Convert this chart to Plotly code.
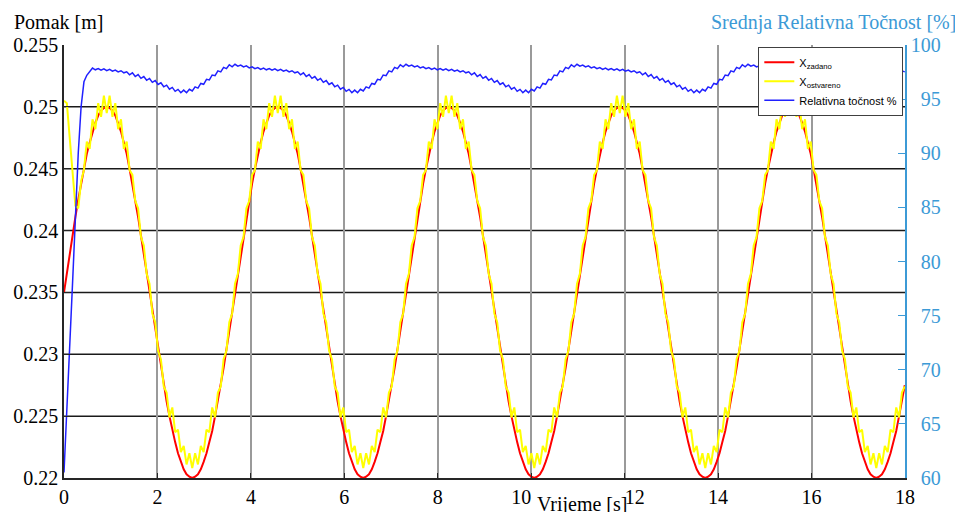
import numpy as np
import plotly.graph_objects as go

# ---------------- data ----------------
T_STEP = 0.061  # sampling step of the logged signals [s]

x_zadano = [
    0.2350, 0.2366, 0.2381, 0.2396, 0.2411, 0.2425, 0.2438, 0.2450, 0.2462, 0.2471,
    0.2480, 0.2487, 0.2493, 0.2497, 0.2499, 0.2500, 0.2499, 0.2497, 0.2493, 0.2487,
    0.2480, 0.2471, 0.2462, 0.2450, 0.2438, 0.2425, 0.2411, 0.2396, 0.2381, 0.2366,
    0.2350, 0.2334, 0.2319, 0.2304, 0.2289, 0.2275, 0.2262, 0.2250, 0.2238, 0.2229,
    0.2220, 0.2213, 0.2207, 0.2203, 0.2201, 0.2200, 0.2201, 0.2203, 0.2207, 0.2213,
    0.2220, 0.2229, 0.2238, 0.2250, 0.2262, 0.2275, 0.2289, 0.2304, 0.2319, 0.2334,
    0.2350, 0.2366, 0.2381, 0.2396, 0.2411, 0.2425, 0.2438, 0.2450, 0.2462, 0.2471,
    0.2480, 0.2487, 0.2493, 0.2497, 0.2499, 0.2500, 0.2499, 0.2497, 0.2493, 0.2487,
    0.2480, 0.2471, 0.2462, 0.2450, 0.2438, 0.2425, 0.2411, 0.2396, 0.2381, 0.2366,
    0.2350, 0.2334, 0.2319, 0.2304, 0.2289, 0.2275, 0.2262, 0.2250, 0.2238, 0.2229,
    0.2220, 0.2213, 0.2207, 0.2203, 0.2201, 0.2200, 0.2201, 0.2203, 0.2207, 0.2213,
    0.2220, 0.2229, 0.2238, 0.2250, 0.2262, 0.2275, 0.2289, 0.2304, 0.2319, 0.2334,
    0.2350, 0.2366, 0.2381, 0.2396, 0.2411, 0.2425, 0.2438, 0.2450, 0.2462, 0.2471,
    0.2480, 0.2487, 0.2493, 0.2497, 0.2499, 0.2500, 0.2499, 0.2497, 0.2493, 0.2487,
    0.2480, 0.2471, 0.2462, 0.2450, 0.2438, 0.2425, 0.2411, 0.2396, 0.2381, 0.2366,
    0.2350, 0.2334, 0.2319, 0.2304, 0.2289, 0.2275, 0.2262, 0.2250, 0.2238, 0.2229,
    0.2220, 0.2213, 0.2207, 0.2203, 0.2201, 0.2200, 0.2201, 0.2203, 0.2207, 0.2213,
    0.2220, 0.2229, 0.2238, 0.2250, 0.2262, 0.2275, 0.2289, 0.2304, 0.2319, 0.2334,
    0.2350, 0.2366, 0.2381, 0.2396, 0.2411, 0.2425, 0.2438, 0.2450, 0.2462, 0.2471,
    0.2480, 0.2487, 0.2493, 0.2497, 0.2499, 0.2500, 0.2499, 0.2497, 0.2493, 0.2487,
    0.2480, 0.2471, 0.2462, 0.2450, 0.2438, 0.2425, 0.2411, 0.2396, 0.2381, 0.2366,
    0.2350, 0.2334, 0.2319, 0.2304, 0.2289, 0.2275, 0.2262, 0.2250, 0.2238, 0.2229,
    0.2220, 0.2213, 0.2207, 0.2203, 0.2201, 0.2200, 0.2201, 0.2203, 0.2207, 0.2213,
    0.2220, 0.2229, 0.2238, 0.2250, 0.2262, 0.2275, 0.2289, 0.2304, 0.2319, 0.2334,
    0.2350, 0.2366, 0.2381, 0.2396, 0.2411, 0.2425, 0.2438, 0.2450, 0.2462, 0.2471,
    0.2480, 0.2487, 0.2493, 0.2497, 0.2499, 0.2500, 0.2499, 0.2497, 0.2493, 0.2487,
    0.2480, 0.2471, 0.2462, 0.2450, 0.2438, 0.2425, 0.2411, 0.2396, 0.2381, 0.2366,
    0.2350, 0.2334, 0.2319, 0.2304, 0.2289, 0.2275, 0.2262, 0.2250, 0.2238, 0.2229,
    0.2220, 0.2213, 0.2207, 0.2203, 0.2201, 0.2200, 0.2201, 0.2203, 0.2207, 0.2213,
    0.2220, 0.2229, 0.2238, 0.2250, 0.2262, 0.2275,
]

x_ostvareno = [
    0.2505, 0.2503, 0.2475, 0.2445, 0.2420, 0.2418, 0.2440, 0.2449, 0.2472, 0.2466,
    0.2490, 0.2482, 0.2503, 0.2492, 0.2509, 0.2495, 0.2509, 0.2492, 0.2503, 0.2482,
    0.2490, 0.2466, 0.2472, 0.2449, 0.2445, 0.2424, 0.2418, 0.2395, 0.2388, 0.2365,
    0.2357, 0.2333, 0.2326, 0.2303, 0.2296, 0.2274, 0.2269, 0.2249, 0.2257, 0.2237,
    0.2239, 0.2221, 0.2226, 0.2211, 0.2220, 0.2208, 0.2220, 0.2211, 0.2226, 0.2221,
    0.2239, 0.2237, 0.2257, 0.2249, 0.2269, 0.2274, 0.2296, 0.2303, 0.2326, 0.2333,
    0.2357, 0.2365, 0.2388, 0.2395, 0.2418, 0.2424, 0.2445, 0.2449, 0.2472, 0.2466,
    0.2490, 0.2482, 0.2503, 0.2492, 0.2509, 0.2495, 0.2509, 0.2492, 0.2503, 0.2482,
    0.2490, 0.2466, 0.2472, 0.2449, 0.2445, 0.2424, 0.2418, 0.2395, 0.2388, 0.2365,
    0.2357, 0.2333, 0.2326, 0.2303, 0.2296, 0.2274, 0.2269, 0.2249, 0.2257, 0.2237,
    0.2239, 0.2221, 0.2226, 0.2211, 0.2220, 0.2208, 0.2220, 0.2211, 0.2226, 0.2221,
    0.2239, 0.2237, 0.2257, 0.2249, 0.2269, 0.2274, 0.2296, 0.2303, 0.2326, 0.2333,
    0.2357, 0.2365, 0.2388, 0.2395, 0.2418, 0.2424, 0.2445, 0.2449, 0.2472, 0.2466,
    0.2490, 0.2482, 0.2503, 0.2492, 0.2509, 0.2495, 0.2509, 0.2492, 0.2503, 0.2482,
    0.2490, 0.2466, 0.2472, 0.2449, 0.2445, 0.2424, 0.2418, 0.2395, 0.2388, 0.2365,
    0.2357, 0.2333, 0.2326, 0.2303, 0.2296, 0.2274, 0.2269, 0.2249, 0.2257, 0.2237,
    0.2239, 0.2221, 0.2226, 0.2211, 0.2220, 0.2208, 0.2220, 0.2211, 0.2226, 0.2221,
    0.2239, 0.2237, 0.2257, 0.2249, 0.2269, 0.2274, 0.2296, 0.2303, 0.2326, 0.2333,
    0.2357, 0.2365, 0.2388, 0.2395, 0.2418, 0.2424, 0.2445, 0.2449, 0.2472, 0.2466,
    0.2490, 0.2482, 0.2503, 0.2492, 0.2509, 0.2495, 0.2509, 0.2492, 0.2503, 0.2482,
    0.2490, 0.2466, 0.2472, 0.2449, 0.2445, 0.2424, 0.2418, 0.2395, 0.2388, 0.2365,
    0.2357, 0.2333, 0.2326, 0.2303, 0.2296, 0.2274, 0.2269, 0.2249, 0.2257, 0.2237,
    0.2239, 0.2221, 0.2226, 0.2211, 0.2220, 0.2208, 0.2220, 0.2211, 0.2226, 0.2221,
    0.2239, 0.2237, 0.2257, 0.2249, 0.2269, 0.2274, 0.2296, 0.2303, 0.2326, 0.2333,
    0.2357, 0.2365, 0.2388, 0.2395, 0.2418, 0.2424, 0.2445, 0.2449, 0.2472, 0.2466,
    0.2490, 0.2482, 0.2503, 0.2492, 0.2509, 0.2495, 0.2509, 0.2492, 0.2503, 0.2482,
    0.2490, 0.2466, 0.2472, 0.2449, 0.2445, 0.2424, 0.2418, 0.2395, 0.2388, 0.2365,
    0.2357, 0.2333, 0.2326, 0.2303, 0.2296, 0.2274, 0.2269, 0.2249, 0.2257, 0.2237,
    0.2239, 0.2221, 0.2226, 0.2211, 0.2220, 0.2208, 0.2220, 0.2211, 0.2226, 0.2221,
    0.2239, 0.2237, 0.2257, 0.2249, 0.2269, 0.2274,
]

tocnost = [
    60.5, 66.0, 72.0, 78.0, 84.0, 90.0, 94.3, 96.6, 97.2, 97.5,
    97.87, 97.71, 97.83, 97.67, 97.79, 97.63, 97.75, 97.58, 97.69, 97.51,
    97.62, 97.43, 97.52, 97.25, 97.43, 97.09, 97.27, 96.92, 97.09, 96.74,
    96.91, 96.55, 96.71, 96.35, 96.51, 96.14, 96.29, 95.92, 96.08, 95.72,
    95.90, 95.59, 95.83, 95.59, 95.91, 95.75, 96.13, 96.02, 96.45, 96.37,
    96.83, 96.77, 97.23, 97.17, 97.61, 97.52, 97.93, 97.82, 98.18, 97.99,
    98.22, 98.05, 98.15, 97.97, 98.07, 97.89, 97.99, 97.81, 97.92, 97.75,
    97.87, 97.71, 97.83, 97.67, 97.79, 97.63, 97.75, 97.58, 97.69, 97.51,
    97.62, 97.43, 97.52, 97.25, 97.43, 97.09, 97.27, 96.92, 97.09, 96.74,
    96.91, 96.55, 96.71, 96.35, 96.51, 96.14, 96.29, 95.92, 96.08, 95.72,
    95.90, 95.59, 95.83, 95.59, 95.91, 95.75, 96.13, 96.02, 96.45, 96.37,
    96.83, 96.77, 97.23, 97.17, 97.61, 97.52, 97.93, 97.82, 98.18, 97.99,
    98.22, 98.05, 98.15, 97.97, 98.07, 97.89, 97.99, 97.81, 97.92, 97.75,
    97.87, 97.71, 97.83, 97.67, 97.79, 97.63, 97.75, 97.58, 97.69, 97.51,
    97.62, 97.43, 97.52, 97.25, 97.43, 97.09, 97.27, 96.92, 97.09, 96.74,
    96.91, 96.55, 96.71, 96.35, 96.51, 96.14, 96.29, 95.92, 96.08, 95.72,
    95.90, 95.59, 95.83, 95.59, 95.91, 95.75, 96.13, 96.02, 96.45, 96.37,
    96.83, 96.77, 97.23, 97.17, 97.61, 97.52, 97.93, 97.82, 98.18, 97.99,
    98.22, 98.05, 98.15, 97.97, 98.07, 97.89, 97.99, 97.81, 97.92, 97.75,
    97.87, 97.71, 97.83, 97.67, 97.79, 97.63, 97.75, 97.58, 97.69, 97.51,
    97.62, 97.43, 97.52, 97.25, 97.43, 97.09, 97.27, 96.92, 97.09, 96.74,
    96.91, 96.55, 96.71, 96.35, 96.51, 96.14, 96.29, 95.92, 96.08, 95.72,
    95.90, 95.59, 95.83, 95.59, 95.91, 95.75, 96.13, 96.02, 96.45, 96.37,
    96.83, 96.77, 97.23, 97.17, 97.61, 97.52, 97.93, 97.82, 98.18, 97.99,
    98.22, 98.05, 98.15, 97.97, 98.07, 97.89, 97.99, 97.81, 97.92, 97.75,
    97.87, 97.71, 97.83, 97.67, 97.79, 97.63, 97.75, 97.58, 97.69, 97.51,
    97.62, 97.43, 97.52, 97.25, 97.43, 97.09, 97.27, 96.92, 97.09, 96.74,
    96.91, 96.55, 96.71, 96.35, 96.51, 96.14, 96.29, 95.92, 96.08, 95.72,
    95.90, 95.59, 95.83, 95.59, 95.91, 95.75, 96.13, 96.02, 96.45, 96.37,
    96.83, 96.77, 97.23, 97.17, 97.61, 97.52,
]

x_ticks = [0, 2, 4, 6, 8, 10, 12, 14, 16, 18]
# "10" and "12" sit apart in the reference, leaving room for the axis title
x_tick_text = ["0", "2", "4", "6", "8", "10\u2007\u2007", "\u2007\u200712", "14", "16", "18"]
y_ticks = [0.22, 0.225, 0.23, 0.235, 0.24, 0.245, 0.25, 0.255]
y_tick_text = ["0.22", "0.225", "0.23", "0.235", "0.24", "0.245", "0.25", "0.255"]
y2_ticks = [60, 65, 70, 75, 80, 85, 90, 95, 100]

# time axis of the logged samples
time_s = np.round(np.arange(len(x_zadano)) * T_STEP, 3)

# ---------------- styling ----------------
# the page puts the figure 8 px in from the top-left corner
SERIF = "Times New Roman, Liberation Serif, Tinos, DejaVu Serif, serif"
SANS = "Arial, Liberation Sans, sans-serif"
AX2 = "#3C9AD6"
AXC = "#262626"

fig = go.Figure()
fig.add_trace(go.Scatter(x=time_s, y=x_zadano, mode="lines", name="X<sub>zadano</sub>",
                         line=dict(color="#FF0000", width=2)))
fig.add_trace(go.Scatter(x=time_s, y=x_ostvareno, mode="lines", name="X<sub>ostvareno</sub>",
                         line=dict(color="#FFFF00", width=2)))
fig.add_trace(go.Scatter(x=time_s, y=tocnost, mode="lines", name="Relativna točnost %",
                         line=dict(color="#2020FF", width=1.5), yaxis="y2"))

# horizontal black grid lines at the inner left-axis ticks
shapes = [dict(type="line", xref="paper", x0=0, x1=1, yref="y", y0=v, y1=v,
               line=dict(color="#1a1a1a", width=1.5), layer="below")
          for v in y_ticks[1:-1]]

fig.update_layout(
    width=955, height=504,
    font=dict(family=SERIF, size=20, color="black"),
    margin=dict(l=56, r=58, t=37, b=34, autoexpand=False),
    paper_bgcolor="white", plot_bgcolor="white",
    shapes=shapes,
    showlegend=True,
    legend=dict(x=0.998, xanchor="right", y=0.996, yanchor="top",
                bgcolor="white", bordercolor="#404040", borderwidth=1,
                font=dict(family=SANS, size=11, color="black"),
                tracegroupgap=0),
    xaxis=dict(range=[0, 18], tickvals=x_ticks, ticktext=x_tick_text,
               automargin=False,
               showgrid=True, gridcolor="#9a9a9a", gridwidth=2,
               showline=True, linecolor=AXC, linewidth=1.5,
               ticks="inside", ticklen=5, tickcolor=AXC,
               tickfont=dict(family=SERIF, size=20, color="black"),
               zeroline=False),
    yaxis=dict(range=[0.22, 0.255], tickvals=y_ticks, ticktext=y_tick_text,
               automargin=False,
               showgrid=False, showline=True, linecolor=AXC, linewidth=1.5,
               ticks="inside", ticklen=6, tickcolor=AXC,
               tickfont=dict(family=SERIF, size=20, color="black"),
               zeroline=False),
    yaxis2=dict(overlaying="y", side="right", range=[60, 100],
                automargin=False,
                tickvals=y2_ticks,
                ticktext=[("\u2007" + str(v)) if v < 100 else str(v) for v in y2_ticks],
                showgrid=False, showline=True, linecolor=AX2, linewidth=1.5,
                ticks="inside", ticklen=7, tickcolor=AX2,
                tickfont=dict(family=SERIF, size=20, color=AX2),
                zeroline=False),
    annotations=[
        dict(text="Pomak [m]", xref="paper", yref="paper", x=-0.0618, y=1.052,
             xanchor="left", yanchor="middle", showarrow=False,
             font=dict(family=SERIF, size=20, color="black")),
        dict(text="Srednja Relativna Točnost [%]", xref="paper", yref="paper",
             x=1.063, y=1.052, xanchor="right", yanchor="middle", showarrow=False,
             font=dict(family=SERIF, size=20, color=AX2)),
        dict(text="Vrijeme [s]", xref="paper", yref="paper", x=0.616, y=-0.062,
             xanchor="center", yanchor="middle", showarrow=False,
             font=dict(family=SERIF, size=20, color="black")),
    ],
)

fig.write_html("out.html")
